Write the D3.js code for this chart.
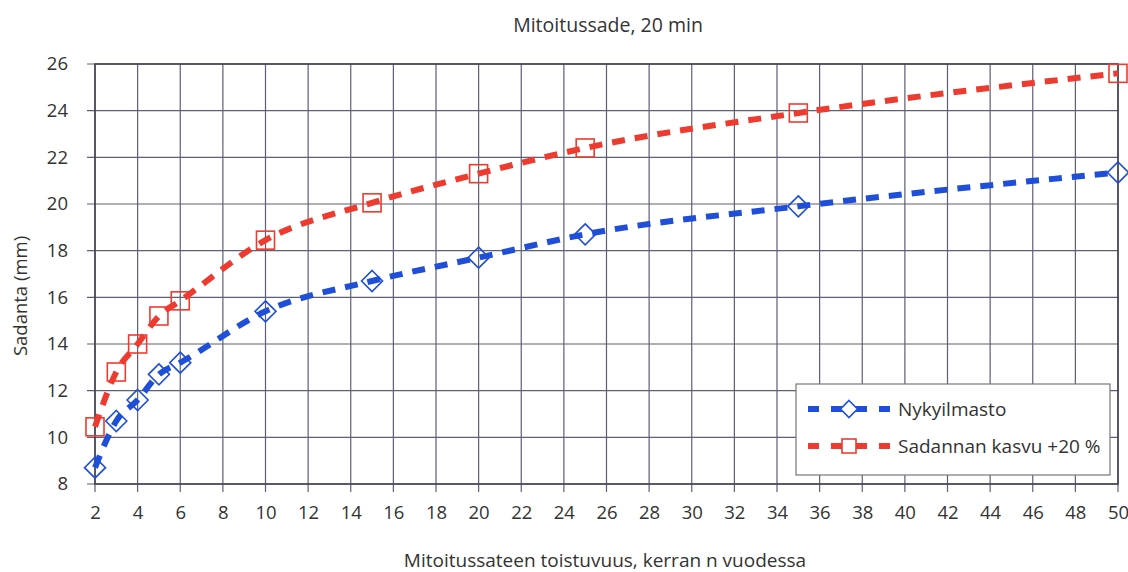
<!DOCTYPE html>
<html><head><meta charset="utf-8">
<script src="https://cdn.jsdelivr.net/npm/d3@7"></script>
<style>body{margin:0;background:#fff}svg{display:block}text{font-family:"Open Sans",Lato,sans-serif;fill:#333}</style>
</head><body>
<svg id="c" width="1128" height="572"></svg>
<script>
const years = [2, 3, 4, 5, 6, 10, 15, 20, 25, 35, 50];
const nykyilmasto = [8.7, 10.7, 11.6, 12.7, 13.2, 15.4, 16.7, 17.7, 18.7, 19.9, 21.35];
const kasvu20 = [10.45, 12.8, 14.0, 15.2, 15.85, 18.45, 20.05, 21.3, 22.4, 23.9, 25.6];
const xTicks = d3.range(2, 51, 2);
const yTicks = [8, 10, 12, 14, 16, 18, 20, 22, 24, 26];
const seriesNames = ["Nykyilmasto", "Sadannan kasvu +20 %"];
const colors = ["#1f4fd8", "#ee3b30"];
const title = "Mitoitussade, 20 min";
const xTitle = "Mitoitussateen toistuvuus, kerran n vuodessa";
const yTitle = "Sadanta (mm)";

const svg = d3.select("#c");
const L = 95, R = 1118, T = 64, B = 484;
const x = d3.scaleLinear().domain([2, 50]).range([L, R]);
const y = d3.scaleLinear().domain([8, 26]).range([B, T]);
const grid = "#5e5e74";
const FF = "'Open Sans',Lato,sans-serif";

svg.append("g").selectAll("line").data(xTicks).join("line")
  .attr("x1", d => x(d)).attr("x2", d => x(d)).attr("y1", T).attr("y2", B + 8)
  .attr("stroke", grid).attr("stroke-width", 1.2);
svg.append("g").selectAll("line").data(yTicks).join("line")
  .attr("x1", L - 8).attr("x2", R).attr("y1", d => y(d)).attr("y2", d => y(d))
  .attr("stroke", grid).attr("stroke-width", 1.2);
svg.append("rect").attr("x", L).attr("y", T).attr("width", R - L).attr("height", B - T)
  .attr("fill", "none").attr("stroke", "#444455").attr("stroke-width", 1.6);

const xa = svg.append("g").attr("transform", `translate(0,${B})`)
  .call(d3.axisBottom(x).tickValues(xTicks).tickSize(0).tickPadding(22).tickFormat(d3.format("d")));
xa.select(".domain").remove();
xa.selectAll("text").style("font-size", "18.5px").style("font-family", FF).attr("fill", "#333");
const ya = svg.append("g").attr("transform", `translate(${L},0)`)
  .call(d3.axisLeft(y).tickValues(yTicks).tickSize(0).tickPadding(27).tickFormat(d3.format("d")));
ya.select(".domain").remove();
ya.selectAll("text").style("font-size", "18.5px").style("font-family", FF).attr("fill", "#333");

svg.append("text").attr("x", 608).attr("y", 32).attr("text-anchor", "middle").style("font-size", "19.5px").text(title);
svg.append("text").attr("x", 605).attr("y", 567).attr("text-anchor", "middle").style("font-size", "19px").text(xTitle);
svg.append("text").attr("transform", "translate(27,296) rotate(-90)").attr("text-anchor", "middle").style("font-size", "18.5px").text(yTitle);

const data = [nykyilmasto, kasvu20];
const line = d3.line().x((d, i) => x(years[i])).y(d => y(d)).curve(d3.curveMonotoneX);
data.forEach((vals, s) => {
  svg.append("path").attr("d", line(vals)).attr("fill", "none")
    .attr("stroke", colors[s]).attr("stroke-width", 6).attr("stroke-dasharray", "13,10");
});
svg.append("g").selectAll("path").data(nykyilmasto).join("path")
  .attr("transform", (d, i) => `translate(${x(years[i])},${y(d)})`)
  .attr("d", "M0,-10.5L10.5,0L0,10.5L-10.5,0Z").attr("fill", "none").attr("stroke", colors[0]).attr("stroke-width", 1.6);
svg.append("g").selectAll("rect").data(kasvu20).join("rect")
  .attr("x", (d, i) => x(years[i]) - 9).attr("y", d => y(d) - 9).attr("width", 18).attr("height", 18)
  .attr("fill", "none").attr("stroke", colors[1]).attr("stroke-width", 1.6);

const lg = svg.append("g");
lg.append("rect").attr("x", 796).attr("y", 384).attr("width", 314).attr("height", 91)
  .attr("fill", "#fff").attr("stroke", "#777").attr("stroke-width", 1.2);
seriesNames.forEach((n, s) => {
  const cy = 409 + s * 37;
  lg.append("line").attr("x1", 808).attr("x2", 890).attr("y1", cy).attr("y2", cy)
    .attr("stroke", colors[s]).attr("stroke-width", 6).attr("stroke-dasharray", "11,12,36,12,11");
  if (s === 0) lg.append("path").attr("transform", `translate(849,${cy})`).attr("d", "M0,-8.5L8.5,0L0,8.5L-8.5,0Z")
    .attr("fill", "#fff").attr("stroke", colors[0]).attr("stroke-width", 1.6);
  else lg.append("rect").attr("x", 842).attr("y", cy - 7).attr("width", 14).attr("height", 14)
    .attr("fill", "#fff").attr("stroke", colors[1]).attr("stroke-width", 1.6);
  lg.append("text").attr("x", 898).attr("y", cy + 7).style("font-size", "19px").text(n);
});
</script>
</body></html>
